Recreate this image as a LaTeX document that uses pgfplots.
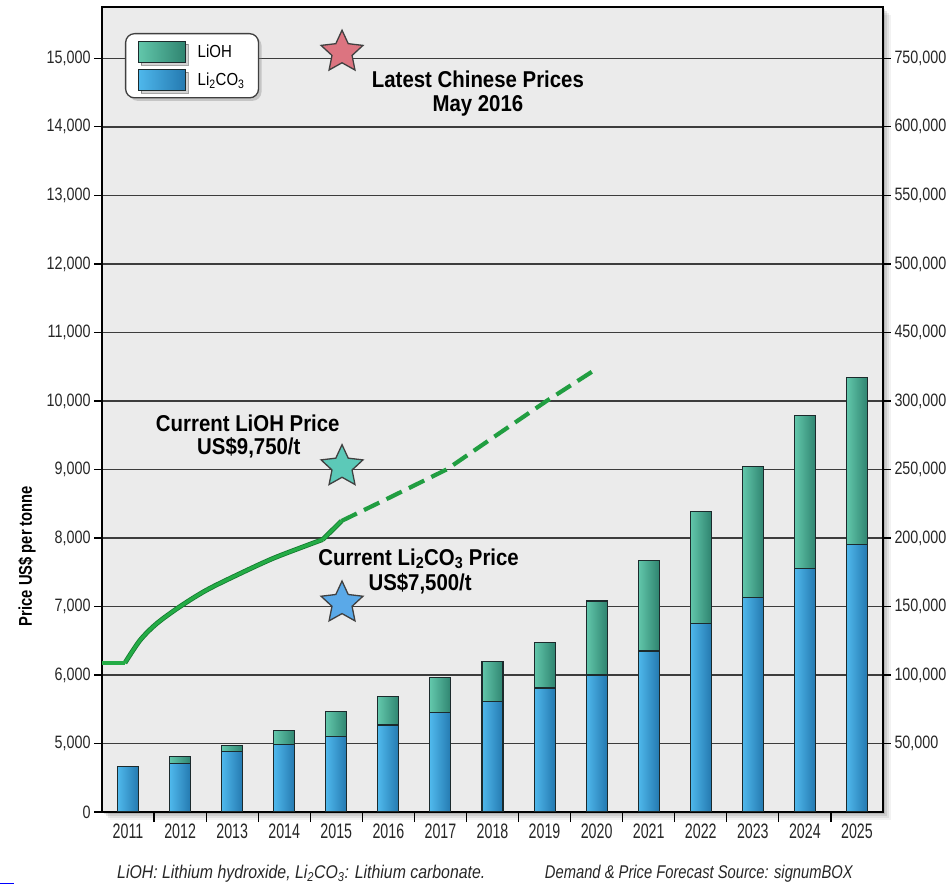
\documentclass[border=0pt]{standalone}
\usepackage{pgfplots}
\pgfplotsset{compat=1.18}
\usepackage{pgfplotstable}
\usepackage{fontspec}
\setmainfont{Liberation Sans}
\newfontfamily\narrow[FakeStretch=0.8]{Liberation Sans}
\newfontfamily\inarrow[FakeStretch=0.86]{Liberation Sans}
\newfontfamily\bnarrow[FakeStretch=0.89]{Liberation Sans}
\newfontfamily\yearfont[FakeStretch=0.68]{Liberation Sans}
\usetikzlibrary{shadows}

\definecolor{bgray}{HTML}{EBEBEB}
\definecolor{gridc}{HTML}{3C3C3C}
\definecolor{blueL}{HTML}{7AD4F6}
\definecolor{blueM}{HTML}{4FB8EC}
\definecolor{blueD}{HTML}{2479B0}
\definecolor{tealL}{HTML}{8FE0CA}
\definecolor{tealM}{HTML}{62C7AB}
\definecolor{tealD}{HTML}{2F8470}
\definecolor{barline}{HTML}{1C2A2C}
\definecolor{lgreen}{HTML}{24AC46}
\definecolor{dgreen}{HTML}{147A30}
\definecolor{starred}{HTML}{DC7480}
\definecolor{starteal}{HTML}{5CC9B8}
\definecolor{starblue}{HTML}{5AA9E8}

\newcommand\sub[1]{\textsubscript{#1}}

\pgfdeclareplotmark{fivestar}{%
  \pgfpathmoveto{\pgfpointpolar{90}{\pgfplotmarksize}}%
  \pgfpathlineto{\pgfpointpolar{126}{0.48\pgfplotmarksize}}%
  \pgfpathlineto{\pgfpointpolar{162}{\pgfplotmarksize}}%
  \pgfpathlineto{\pgfpointpolar{198}{0.48\pgfplotmarksize}}%
  \pgfpathlineto{\pgfpointpolar{234}{\pgfplotmarksize}}%
  \pgfpathlineto{\pgfpointpolar{270}{0.48\pgfplotmarksize}}%
  \pgfpathlineto{\pgfpointpolar{306}{\pgfplotmarksize}}%
  \pgfpathlineto{\pgfpointpolar{342}{0.48\pgfplotmarksize}}%
  \pgfpathlineto{\pgfpointpolar{18}{\pgfplotmarksize}}%
  \pgfpathlineto{\pgfpointpolar{54}{0.48\pgfplotmarksize}}%
  \pgfpathclose
  \pgfusepathqfillstroke
}

% demand in thousand tonnes
\pgfplotstableread{
year li2co3 lioh
2011 33.5 0
2012 35.5 5.0
2013 44.0 4.5
2014 49.0 10.5
2015 55.0 18.5
2016 63.5 21.0
2017 72.5 25.5
2018 80.5 29.5
2019 90.5 33.0
2020 100.0 54.0
2021 117.5 66.0
2022 137.5 82.0
2023 156.5 95.5
2024 178.0 111.5
2025 195.0 122.0
}\demand

% price US$ per tonne
\pgfplotstableread{
year price
2010.50 6175
2010.94 6175
}\priceflat
\pgfplotstableread{
year price
2010.94 6175
2011.23 6506
2011.55 6750
2012.00 7000
2012.51 7240
2013.15 7480
2013.78 7700
2014.43 7890
2014.74 7977
}\pricecurve
\pgfplotstableread{
year price
2014.74 7977
2015.10 8248
}\pricejump
\pgfplotstableread{
year price
2015.10 8248
2016.00 8580
2017.12 9000
2018.00 9460
2019.04 10000
2020.00 10470
}\pricefcst

\pgfplotsset{
  tealbar/.style={ybar, bar width=21bp, bar shift=0pt, draw=barline, line width=1.1bp,
    left color=tealM, middle color=tealL, right color=tealD, forget plot},
  bluebar/.style={ybar, bar width=21bp, bar shift=0pt, draw=barline, line width=1.1bp,
    left color=blueM, middle color=blueL, right color=blueD, forget plot},
}

\begin{document}
\begin{tikzpicture}
\useasboundingbox (0,0) rectangle (949bp,885bp);
% frame shadow
\foreach \s/\o in {8/0.05,6/0.07,4/0.09,2/0.12}{
  \fill[black,opacity=\o] (102bp+\s bp,73bp-\s bp) rectangle (883bp+\s bp,878bp-\s bp);
}
\begin{axis}[
  at={(102bp,73bp)}, anchor=south west,
  scale only axis, width=781bp, height=805bp,
  xmin=2010.5, xmax=2025.5, ymin=0, ymax=11.75,
  axis background/.style={fill=bgray},
  axis line style={line width=2.2bp, black},
  xtick={2011,2012,2013,2014,2015,2016,2017,2018,2019,2020,2021,2022,2023,2024,2025},
  xticklabels={2011,2012,2013,2014,2015,2016,2017,2018,2019,2020,2021,2022,2023,2024,2025},
  major x tick style={draw=none},
  minor xtick={2011.5,2012.5,2013.5,2014.5,2015.5,2016.5,2017.5,2018.5,2019.5,2020.5,2021.5,2022.5,2023.5,2024.5},
  minor tick length=10bp, major tick length=8bp,
  tick align=outside, xtick pos=bottom, ytick pos=left,
  tick style={black, line width=1.2bp},
  ytick={0,1,2,3,4,5,6,7,8,9,10,11},
  yticklabels={0,{5,000},{6,000},{7,000},{8,000},{9,000},{10,000},{11,000},{12,000},{13,000},{14,000},{15,000}},
  ymajorgrids, major grid style={gridc, line width=1.4bp},
  yticklabel style={font=\narrow\fontsize{18}{18}\selectfont, text=black!85},
  xticklabel style={font=\yearfont\fontsize{21}{21}\selectfont, text=black!85},
  legend style={at={(rel axis cs:0.0294,0.9677)}, anchor=north west,
    draw=black!75, line width=1.3bp, rounded corners=9bp, fill=white,
    drop shadow={shadow xshift=3bp, shadow yshift=-3bp, opacity=0.35},
    inner xsep=12bp, inner ysep=7bp, row sep=6bp,
    /tikz/every odd column/.append style={column sep=10bp}},
  legend cell align=left,
]
\pgfplotsinvokeforeach{2011,...,2025}{
  \addplot[tealbar, x filter/.expression={x==#1 ? x : nan}]
    table[x=year, y expr=(\thisrow{li2co3}+\thisrow{lioh})/50]{\demand};
}
\pgfplotsinvokeforeach{2011,...,2025}{
  \addplot[bluebar, x filter/.expression={x==#1 ? x : nan}]
    table[x=year, y expr=\thisrow{li2co3}/50]{\demand};
}
\addlegendimage{legend image code/.code={\draw[sharp corners, draw=barline, line width=1.1bp, left color=tealM, middle color=tealL, right color=tealD] (0bp,-10bp) rectangle (47bp,11bp);}}
\addlegendentry{\inarrow\fontsize{17.5}{17.5}\selectfont LiOH}
\addlegendimage{legend image code/.code={\draw[sharp corners, draw=barline, line width=1.1bp, left color=blueM, middle color=blueL, right color=blueD] (0bp,-10bp) rectangle (47bp,11bp);}}
\addlegendentry{\inarrow\fontsize{17.5}{17.5}\selectfont Li\sub{2}CO\sub{3}}
\end{axis}

\begin{axis}[
  at={(102bp,73bp)}, anchor=south west,
  scale only axis, width=781bp, height=805bp,
  xmin=2010.5, xmax=2025.5, ymin=0, ymax=11.75,
  axis x line=none, axis y line*=right,
  axis line style={line width=2.2bp, black},
  tick align=outside, major tick length=8bp,
  tick style={black, line width=1.2bp},
  ytick={1,2,3,4,5,6,7,8,9,10,11},
  yticklabels={{50,000},{100,000},{150,000},{200,000},{250,000},{300,000},{450,000},{500,000},{550,000},{600,000},{750,000}},
  yticklabel style={font=\narrow\fontsize{18}{18}\selectfont, text=black!85},
  clip=false,
]
\addplot[dgreen, line width=4.8bp, line join=round] table[x=year, y expr=(\thisrow{price}-4000)/1000]{\priceflat};
\addplot[dgreen, line width=4.8bp, line join=round, smooth, tension=0.5] table[x=year, y expr=(\thisrow{price}-4000)/1000]{\pricecurve};
\addplot[dgreen, line width=4.8bp, line join=round] table[x=year, y expr=(\thisrow{price}-4000)/1000]{\pricejump};
\addplot[lgreen, line width=3.2bp, line join=round] table[x=year, y expr=(\thisrow{price}-4000)/1000]{\priceflat};
\addplot[lgreen, line width=3.2bp, line join=round, smooth, tension=0.5] table[x=year, y expr=(\thisrow{price}-4000)/1000]{\pricecurve};
\addplot[lgreen, line width=3.2bp, line join=round] table[x=year, y expr=(\thisrow{price}-4000)/1000]{\pricejump};
\addplot[lgreen!92!black, line width=4.2bp, dash pattern=on 17bp off 8bp] table[x=year, y expr=(\thisrow{price}-4000)/1000]{\pricefcst};

\addplot[only marks, mark=fivestar, mark size=22bp, mark options={fill=starred, draw=black!75, line width=1.3bp},
  y filter/.expression={(y-4000)/1000}] coordinates {(2015.11,15090)};
\addplot[only marks, mark=fivestar, mark size=22bp, mark options={fill=starteal, draw=black!75, line width=1.3bp},
  y filter/.expression={(y-4000)/1000}] coordinates {(2015.11,9040)};
\addplot[only marks, mark=fivestar, mark size=22bp, mark options={fill=starblue, draw=black!75, line width=1.3bp},
  y filter/.expression={(y-4000)/1000}] coordinates {(2015.11,7050)};

\begin{scope}[every node/.style={font=\bnarrow\bfseries\fontsize{23}{23}\selectfont, anchor=base, inner sep=0pt}]
\node at (axis cs:2017.72,10.568) {Latest Chinese Prices};
\node at (axis cs:2017.72,10.22) {May 2016};
\node at (axis cs:2013.30,5.551) {Current LiOH Price};
\node at (axis cs:2013.32,5.211) {US\$9,750/t};
\node at (axis cs:2016.58,3.605) {Current Li\sub{2}CO\sub{3} Price};
\node at (axis cs:2016.61,3.240) {US\$7,500/t};
\end{scope}
\end{axis}

\node[rotate=90, font=\narrow\bfseries\fontsize{18.5}{18.5}\selectfont] at (27bp,329bp) {Price US\$ per tonne};
\node[anchor=base west, inner sep=0pt, font=\inarrow\itshape\fontsize{18.5}{18.5}\selectfont, text=black!85] at (117bp,7bp) {LiOH: Lithium hydroxide, Li\sub{2}CO\sub{3}: Lithium carbonate.};
\node[anchor=base east, inner sep=0pt, font=\narrow\itshape\fontsize{18.5}{18.5}\selectfont, text=black!85] at (853bp,7bp) {Demand \& Price Forecast Source: signumBOX};
\draw[blue, line width=1.2bp] (0,1.5bp) -- (14bp,1.5bp);
\end{tikzpicture}
\end{document}
